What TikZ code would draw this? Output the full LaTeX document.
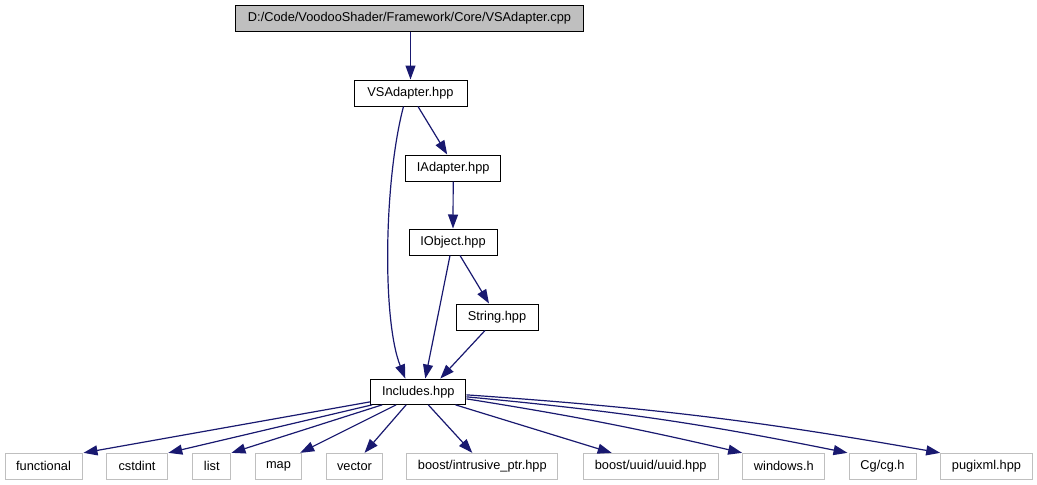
\documentclass[tikz,border=0pt]{standalone}
\usepackage{fontspec}
\setmainfont{Liberation Sans}
\usetikzlibrary{arrows.meta}
\definecolor{edgeblue}{HTML}{191970}
\definecolor{boxgray}{HTML}{BFBFBF}
\begin{document}
\begin{tikzpicture}[x=1pt,y=-1pt,
  every node/.style={font=\fontsize{12.8}{14}\selectfont, inner sep=0pt},
  filebox/.style={draw=black, line width=1pt, fill=white, minimum height=26pt},
  topbox/.style={filebox, fill=boxgray},
  extbox/.style={draw=boxgray, line width=1pt, fill=white, minimum height=25.7pt},
  dep/.style={draw=edgeblue, line width=1.2pt, -{Triangle[length=14pt,width=10pt]}}
]
\useasboundingbox (0,0) rectangle (1037,485);
\fill[white] (0,0) rectangle (1037,485);

\node[topbox, minimum width=348pt] (top) at (409.5,18) {D:/Code/VoodooShader/Framework/Core/VSAdapter.cpp};
\node[filebox, minimum width=113pt] (vsa) at (410.5,93) {VSAdapter.hpp};
\node[filebox, minimum width=95pt] (iad) at (453.2,168) {IAdapter.hpp};
\node[filebox, minimum width=88pt] (iobj) at (453,242) {IObject.hpp};
\node[filebox, minimum width=82pt] (str) at (497,317) {String.hpp};
\node[filebox, minimum width=95.3pt, minimum height=25.3pt] (inc) at (418.3,391.7) {Includes.hpp};

\node[extbox, minimum width=77pt] (func) at (43.5,466.2) {functional};
\node[extbox, minimum width=60.6pt] (cstd) at (137,466.2) {cstdint};
\node[extbox, minimum width=38.3pt] (list) at (211.8,466.2) {list};
\node[extbox, minimum width=46.4pt] (map) at (278.5,466.2) {map};
\node[extbox, minimum width=55.6pt] (vec) at (354.5,466.2) {vector};
\node[extbox, minimum width=151.3pt] (iptr) at (482.3,466.2) {boost/intrusive\_ptr.hpp};
\node[extbox, minimum width=134.7pt] (uuid) at (650.7,466.2) {boost/uuid/uuid.hpp};
\node[extbox, minimum width=82.3pt] (win) at (783.8,466.2) {windows.h};
\node[extbox, minimum width=67pt] (cg) at (882.5,466.2) {Cg/cg.h};
\node[extbox, minimum width=91.6pt] (pugi) at (986.5,466.2) {pugixml.hpp};

% upper edges
\draw[dep] (vsa.north |- top.south) -- (vsa.north);
\draw[dep] ([xshift=7.5]vsa.south) -- ([xshift=-6]iad.north);
\draw[dep] ([xshift=-7]vsa.south) .. controls (384,180) and (382,320) .. ([xshift=-13]inc.north);
\draw[dep] (iad.south) -- (iobj.north);
\draw[dep] ([xshift=7]iobj.south) -- ([xshift=-8]str.north);
\draw[dep] ([xshift=-3]iobj.south) -- ([xshift=7]inc.north);
\draw[dep] ([xshift=-12]str.south) -- ([xshift=22]inc.north);

% lower edges
\draw[dep] ([yshift=3]inc.south west) -- ([xshift=1]func.north east);
\draw[dep] ([xshift=2]inc.south west) -- ([xshift=0.5]cstd.north east);
\draw[dep] ([xshift=12]inc.south west) -- (list.north east);
\draw[dep] ([xshift=26]inc.south west) -- ([xshift=-2]map.north east);
\draw[dep] ([xshift=36]inc.south west) -- ([xshift=10]vec.north);
\draw[dep] ([xshift=10]inc.south) -- ([xshift=-10]iptr.north);
\draw[dep] ([xshift=-11]inc.south east) -- ([xshift=-39]uuid.north);
\draw[dep] ([yshift=6]inc.south east) to[bend left=2] (win.north west);
\draw[dep] ([yshift=8]inc.south east) to[bend left=3] ([xshift=-1]cg.north west);
\draw[dep] ([yshift=10]inc.south east) to[bend left=3] (pugi.north west);
\end{tikzpicture}
\end{document}
